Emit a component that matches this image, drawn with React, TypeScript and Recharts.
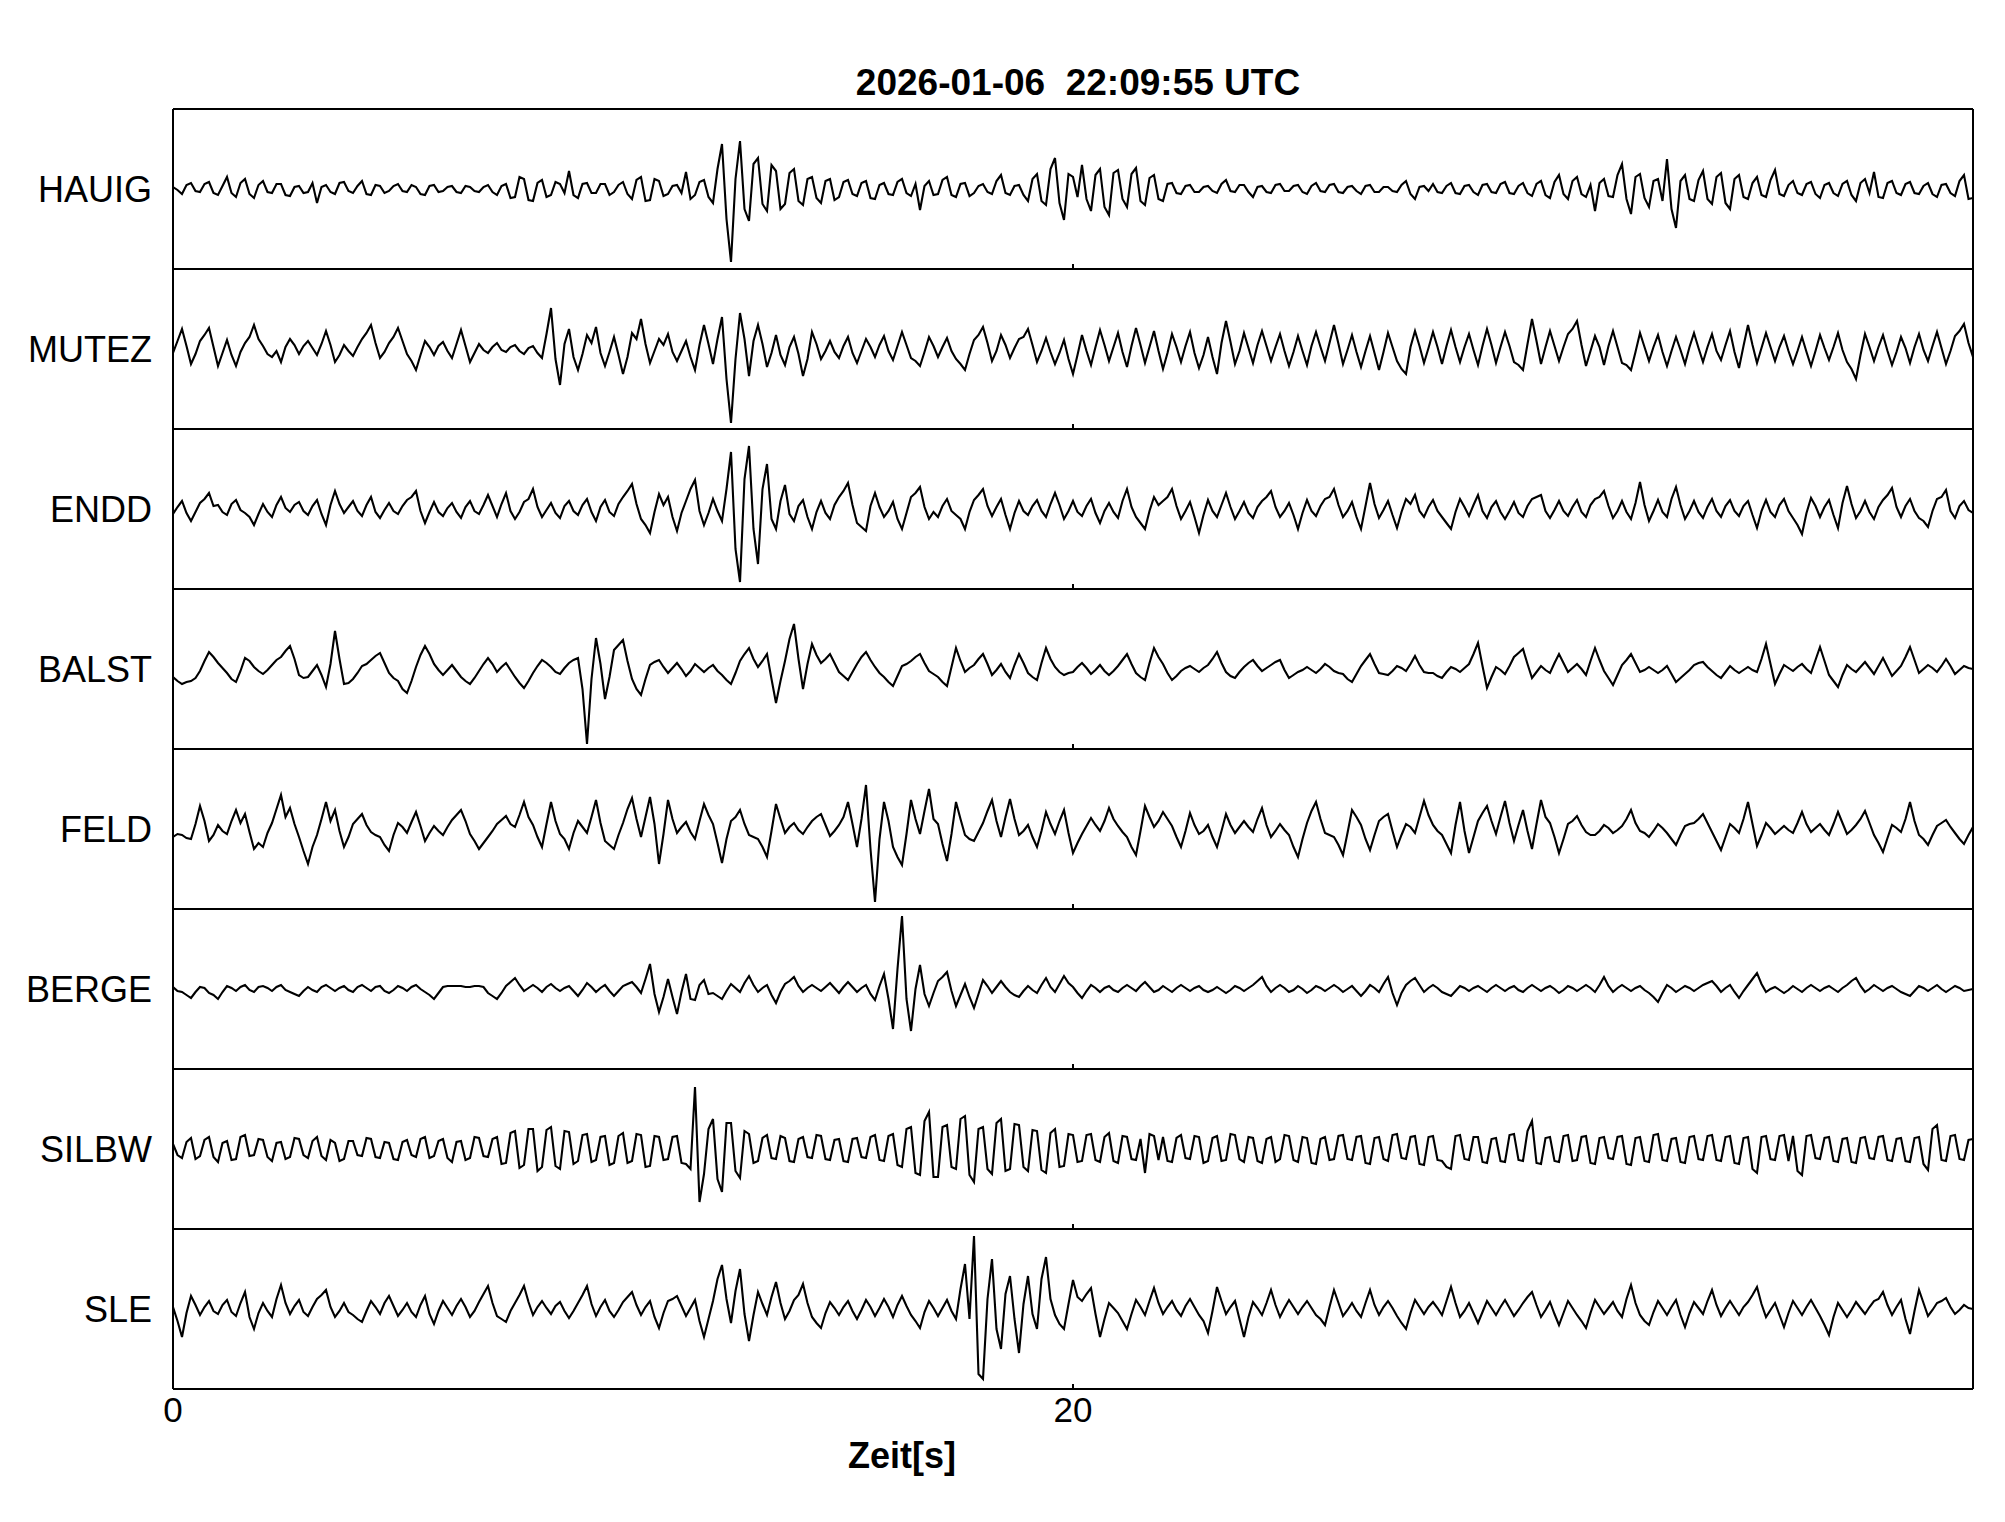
import React from 'react';
import { LineChart, Line, XAxis, YAxis, ReferenceLine } from 'recharts';

const STATIONS = ['HAUIG', 'MUTEZ', 'ENDD', 'BALST', 'FELD', 'BERGE', 'SILBW', 'SLE'];
const X_TICKS = [0, 20];
const X_DOMAIN = [0, 40];
const SAMPLE_STEP = 0.1;
const TITLE = '2026-01-06  22:09:55 UTC';
const X_LABEL = 'Zeit[s]';

const HAUIG = [
  2, -1, -5, 4, 6, -2, -3, 5, 7, -4,
  -6, 3, 12, -4, -8, 6, 10, -5, -9, 4,
  8, -3, -4, 5, 5, -6, -7, 2, 3, -4,
  -3, 6, -14, 2, 4, -3, -5, 6, 7, -2,
  -4, 3, 8, -5, -6, 4, 3, -4, -2, 3,
  5, -2, -3, 4, 2, -5, -6, 3, 4, -3,
  -2, 2, 3, -3, -4, 3, 2, -2, -3, 2,
  4, -3, -6, 3, 5, -9, -8, 12, 10, -11,
  -12, 6, 9, -8, -6, 7, 5, -4, 18, -6,
  -9, 5, 6, -4, -4, 5, 5, -6, -3, 4,
  7, -5, -10, 9, 12, -12, -11, 10, 8, -7,
  -5, 3, 4, -4, 17, -10, -6, 7, 9, -8,
  -14, 20, 45, -30, -73, 10, 48, -20, -32, 25,
  31, -15, -22, 24, 18, -20, -15, 16, 20, -12,
  -16, 10, 12, -9, -14, 8, 10, -11, -8, 7,
  9, -5, -7, 6, 8, -9, -10, 4, 6, -5,
  -6, 7, 10, -4, -7, 5, -21, 3, 8, -6,
  -5, 9, 12, -6, -8, 5, 6, -7, -4, 3,
  5, -3, -5, 8, 14, -4, -6, 3, 4, -6,
  -12, 10, 15, -12, -16, 20, 31, -14, -31, 15,
  12, -8, 24, -10, -22, 14, 20, -18, -26, 16,
  19, -10, -18, 15, 21, -12, -16, 11, 14, -10,
  -12, 5, 6, -4, -5, 3, 4, -3, -3, 2,
  3, -2, -4, 5, 9, -2, -3, 4, 4, -3,
  -8, 2, 3, -3, -4, 4, 5, -2, -2, 3,
  4, -3, -5, 3, 6, -2, -3, 4, 5, -3,
  -4, 2, 3, -2, -5, 3, 4, -3, -3, 2,
  2, -2, -3, 4, 8, -5, -10, 2, 3, -2,
  5, -3, -4, 3, 6, -4, -5, 3, 4, -3,
  -6, 4, 5, -3, -4, 5, 7, -4, -5, 3,
  6, -4, -7, 5, 8, -6, -9, 7, 14, -5,
  -10, 8, 12, -5, -8, 4, -22, 6, 10, -7,
  -8, 14, 25, -10, -25, 12, 15, -9, -18, 8,
  10, -12, 30, -20, -39, 8, 14, -10, -12, 9,
  18, -10, -15, 12, 16, -14, -20, 10, 14, -8,
  -10, 6, 12, -6, -8, 9, 19, -5, -7, 4,
  8, -4, -6, 5, 7, -5, -9, 4, 6, -4,
  -7, 5, 8, -6, -12, 6, 10, -4, 17, -8,
  -9, 6, 8, -4, -6, 5, 7, -4, -5, 3,
  6, -5, -8, 4, 5, -4, -7, 8, 14, -10,
  -9,
];

const MUTEZ = [
  -4, 8, 20, 3, -15, -5, 8, 14, 21, 2,
  -17, -4, 9, -6, -17, -3, 6, 12, 24, 10,
  3, -5, -8, -2, -13, 2, 10, 4, -5, 3,
  8, 1, -6, 5, 18, 4, -13, -6, 4, -2,
  -7, 2, 10, 16, 24, 6, -9, -3, 6, 12,
  21, 8, -5, -12, -21, -6, 8, 2, -6, 3,
  7, -2, -9, 5, 19, 3, -13, -4, 5, -1,
  -4, 2, 6, -1, -3, 2, 4, -2, -5, 1,
  3, -4, -9, 15, 41, -10, -36, 5, 20, -8,
  -21, -5, 14, 6, 22, -4, -17, -3, 12, -6,
  -25, -8, 16, 10, 30, 5, -14, -2, 10, 4,
  15, -3, -12, -2, 8, -8, -21, 4, 24, 5,
  -15, 10, 32, -30, -74, -10, 36, 10, -27, 8,
  24, 5, -18, -4, 14, -6, -16, 2, 12, -5,
  -27, -10, 17, 5, -10, -2, 8, -3, -9, 3,
  12, -4, -14, -2, 10, 2, -8, 4, 13, -2,
  -11, 3, 17, 4, -9, -12, -17, -3, 12, 3,
  -8, 2, 11, -2, -10, -15, -21, -5, 9, 14,
  22, 6, -12, -2, 14, 4, -9, 1, 10, 12,
  20, 4, -13, -2, 11, -3, -15, -4, 9, -10,
  -25, -6, 14, -2, -16, 2, 19, 4, -12, 2,
  16, -3, -18, 3, 21, 4, -14, 2, 18, -2,
  -20, -4, 15, 2, -13, 3, 17, -4, -19, -6,
  12, -8, -25, 6, 28, 7, -15, -2, 16, 1,
  -14, 4, 18, 3, -12, 2, 15, -2, -17, -3,
  13, -2, -16, 3, 17, 2, -12, 6, 24, 5,
  -15, -1, 14, -3, -18, -2, 13, -4, -21, -3,
  16, 2, -12, -20, -25, 2, 18, 3, -14, 1,
  17, 2, -15, 3, 19, 2, -13, 2, 15, -1,
  -16, 3, 20, 4, -14, 2, 17, 3, -13, -16,
  -21, 5, 30, 8, -15, 2, 18, 3, -12, 2,
  15, 20, 28, 4, -17, -2, 13, 2, -16, 3,
  18, 2, -14, -16, -21, -3, 16, 2, -12, 2,
  14, -3, -17, -2, 12, -1, -15, 2, 16, 1,
  -13, 2, 15, -2, -11, 4, 18, -3, -19, 3,
  24, 4, -14, 1, 16, 2, -12, 2, 13, -2,
  -15, -2, 12, -3, -17, -2, 14, 1, -11, 2,
  16, -1, -13, -20, -30, -6, 15, 2, -12, 2,
  14, -2, -16, -3, 12, 1, -14, 2, 15, -1,
  -12, 3, 17, 1, -15, -2, 13, 18, 25, 6,
  -8,
];

const ENDD = [
  -5, 2, 8, -4, -12, -3, 6, 10, 16, 3,
  4, -3, -6, 5, 9, -1, -4, -8, -16, -5,
  5, -3, -8, 4, 12, 1, -3, 4, 7, -2,
  -6, 3, 9, -5, -16, 4, 18, 5, -4, 2,
  8, -2, -7, 4, 12, -3, -9, -1, 6, -2,
  -5, 3, 9, 12, 18, -2, -14, -3, 7, -3,
  -7, 1, 6, -3, -9, 2, 8, -2, -5, 4,
  14, 3, -8, 5, 16, -2, -10, -3, 7, 10,
  20, 2, -8, -1, 6, -4, -9, 3, 8, -2,
  -6, 4, 10, -3, -12, 2, 9, -3, -7, 5,
  12, 18, 25, 5, -10, -16, -24, -3, 15, 4,
  12, -8, -22, -4, 8, 20, 29, -2, -16, -4,
  10, -2, -12, 20, 57, -40, -73, 30, 63, -20,
  -55, 20, 45, -10, -20, 8, 24, -5, -12, 3,
  9, -8, -20, -3, 8, -4, -10, 4, 12, 18,
  26, 4, -14, -18, -22, 3, 16, 2, -8, -2,
  7, -10, -20, -4, 12, 16, 22, 2, -10, -3,
  -8, 3, 10, -2, -6, -10, -20, -3, 9, 14,
  20, 3, -7, 2, 10, -6, -20, -4, 8, -2,
  -6, 3, 9, -2, -8, 5, 16, 4, -10, -2,
  8, -3, -7, 3, 10, -4, -14, -2, 6, -3,
  -9, 8, 20, 2, -8, -14, -20, -2, 12, 4,
  8, 12, 20, 3, -10, -2, 7, -8, -24, -6,
  9, -2, -8, 4, 16, 2, -10, -2, 7, -4,
  -9, 2, 8, 12, 18, 2, -8, -2, 6, -6,
  -20, -4, 9, -2, -7, 3, 10, 12, 20, 4,
  -8, -2, 7, -8, -20, 3, 26, 5, -9, -1,
  8, -6, -19, -3, 10, 5, 14, -2, -8, 2,
  9, -2, -8, -14, -20, -3, 10, 2, -7, 4,
  14, -2, -9, 2, 8, -3, -10, -2, 7, -4,
  -8, 3, 10, 12, 14, -2, -9, -1, 8, -2,
  -7, 2, 9, -3, -8, 4, 10, 12, 18, 3,
  -9, -2, 8, -3, -10, 6, 27, 4, -12, -2,
  9, -3, -8, 10, 22, 4, -10, -2, 8, -3,
  -9, 2, 10, -2, -8, 3, 9, -2, -7, 3,
  8, -6, -19, -2, 9, -3, -8, 4, 10, -2,
  -9, -16, -25, -4, 11, 3, -8, 2, 9, -6,
  -19, 6, 23, 5, -9, -2, 8, -3, -10, 2,
  9, 14, 21, 2, -8, 3, 10, -2, -9, -12,
  -18, -2, 10, 12, 19, -2, -9, 3, 8, -1,
  -4,
];

const BALST = [
  -8, -12, -15, -13, -12, -9, -2, 8, 17, 12,
  6, 1, -4, -10, -13, -2, 11, 8, 2, -2,
  -5, -1, 4, 9, 12, 18, 23, 10, -6, -9,
  -8, -2, 4, -6, -18, 5, 38, 10, -15, -14,
  -10, -4, 3, 5, 9, 13, 16, 6, -4, -9,
  -12, -20, -24, -12, 2, 14, 23, 15, 5, -1,
  -6, -1, 4, -2, -8, -12, -15, -9, -2, 5,
  11, 5, -3, 2, 6, -1, -8, -14, -19, -12,
  -4, 3, 9, 6, 2, -3, -5, 1, 6, 9,
  11, -20, -75, -10, 31, 5, -30, -8, 19, 24,
  29, 8, -10, -20, -26, -10, 4, 7, 9, 2,
  -4, 1, 6, 0, -7, -2, 5, 1, -3, 1,
  4, -2, -6, -11, -15, -4, 8, 15, 21, 10,
  2, 8, 15, -10, -34, -12, 8, 30, 45, 10,
  -20, 5, 25, 14, 6, 10, 15, 6, -3, -7,
  -11, -3, 5, 12, 17, 9, 2, -4, -8, -13,
  -17, -7, 3, 5, 8, 12, 15, 6, -2, -5,
  -8, -13, -17, 2, 21, 8, -3, 1, 4, 10,
  15, 5, -6, -1, 5, -3, -9, 4, 15, 6,
  -4, -8, -11, 6, 21, 10, 2, -3, -6, -4,
  -3, 2, 6, 1, -5, -1, 4, -2, -6, -2,
  3, 9, 15, 5, -4, -8, -11, 6, 21, 12,
  5, -4, -11, -7, -2, 1, 3, 0, -3, 1,
  4, 10, 17, 6, -3, -7, -9, -3, 2, 6,
  9, 3, -2, 1, 4, 7, 9, -1, -9, -6,
  -3, -1, 2, -1, -4, 0, 5, 2, -2, -4,
  -5, -10, -13, -5, 3, 9, 15, 5, -4, -5,
  -6, -2, 3, 1, -2, 5, 13, 4, -3, -4,
  -4, -7, -9, -3, 2, 0, -3, 1, 5, 15,
  26, 3, -19, -8, 2, -1, -5, 3, 12, 16,
  20, 5, -9, -3, 3, -1, -4, 6, 15, 6,
  -3, 1, 5, 0, -6, 8, 21, 9, -2, -9,
  -16, -6, 4, 9, 15, 6, -3, -1, 2, -1,
  -4, -1, 3, -5, -13, -9, -5, -1, 4, 6,
  7, 2, -2, -6, -9, -3, 3, -1, -4, -1,
  2, -1, -3, 10, 25, 5, -15, -5, 4, 1,
  -2, 2, 5, 0, -4, 9, 22, 8, -6, -12,
  -18, -6, 4, 0, -3, 2, 7, 1, -5, 3,
  11, 2, -7, -2, 3, 12, 22, 9, -4, 0,
  4, 1, -3, 3, 10, 3, -5, -1, 3, 1,
  0,
];

const FELD = [
  -8, -5, -6, -9, -10, 5, 23, 8, -12, -6,
  4, -2, -5, 8, 19, 6, 15, -3, -20, -14,
  -18, -4, 6, 20, 34, 12, 21, 5, -8, -22,
  -35, -18, -6, 10, 27, 8, 19, -2, -18, -8,
  5, 10, 15, 4, -3, -6, -8, -16, -22, -6,
  6, 2, -4, 7, 17, 3, -12, -4, 3, -2,
  -6, 2, 9, 14, 19, 8, -5, -12, -20, -14,
  -8, -2, 5, 9, 13, 5, 2, 14, 27, 12,
  4, -8, -18, 5, 27, 8, -5, -10, -20, -4,
  8, 2, -4, 12, 29, 6, -12, -16, -20, -6,
  6, 20, 31, 10, -8, 12, 32, 5, -35, -5,
  29, 10, -4, 2, 7, -3, -10, 8, 25, 14,
  5, -14, -34, -10, 8, 12, 19, 5, -6, -8,
  -10, -18, -28, -2, 25, 10, -4, 2, 6, -1,
  -5, 2, 8, 12, 15, 4, -7, -2, 4, 12,
  27, 5, -18, 10, 44, -20, -73, -10, 27, 8,
  -18, -28, -36, -5, 29, 10, -5, 18, 40, 10,
  5, -15, -32, -5, 27, 10, -6, -10, -12, -3,
  6, 18, 29, 8, -8, 12, 30, 10, -6, -2,
  4, -8, -18, -2, 17, 5, -5, 8, 19, -4,
  -24, -14, -5, 3, 11, 4, -2, 8, 21, 10,
  3, -3, -8, -18, -26, -2, 23, 12, 2, 8,
  17, 10, 3, -8, -18, -2, 16, 4, -5, -2,
  4, -8, -18, -2, 15, 4, -4, 2, 8, 2,
  -3, 10, 21, 4, -8, -2, 5, -1, -6, -18,
  -28, -10, 6, 18, 27, 10, -4, -6, -8, -16,
  -26, -4, 19, 12, 4, -10, -21, -6, 8, 12,
  15, -2, -18, -6, 5, 2, -4, 12, 28, 14,
  4, -2, -6, -15, -24, 4, 27, -2, -24, -8,
  8, 16, 23, 8, -5, 12, 28, 6, -12, 4,
  19, -2, -20, 5, 29, 12, 6, -8, -24, -10,
  5, 8, 13, 4, -3, -6, -6, -2, 4, 1,
  -4, -1, 3, 10, 19, 6, -2, -4, -8, -2,
  5, 1, -4, -10, -16, -6, 3, 5, 6, 10,
  15, 6, -3, -12, -21, -8, 5, 1, -4, 10,
  27, 5, -17, -6, 6, 1, -5, -1, 3, -1,
  -4, 6, 17, 5, -3, 1, 5, -1, -6, 5,
  17, 6, -5, -1, 4, 10, 18, 6, -6, -14,
  -23, -9, 4, 1, -3, 10, 27, 8, -6, -10,
  -16, -6, 3, 6, 9, 2, -4, -10, -15, -6,
  2,
];

const BERGE = [
  2, -2, -3, -6, -9, -3, 2, 1, -4, -6,
  -10, -3, 3, 1, -2, 2, 4, -1, -3, 2,
  3, 1, -2, 2, 4, -1, -3, -5, -7, -2,
  2, -1, -3, 2, 4, 1, -2, 1, 3, -1,
  -3, 2, 4, 1, -2, 2, 3, -2, -4, -1,
  3, 1, -2, 2, 4, 0, -3, -6, -10, -4,
  2, 3, 3, 3, 3, 2, 2, 3, 3, 2,
  -4, -7, -10, -4, 3, 7, 11, 4, -2, 1,
  4, 1, -3, 2, 5, 1, -2, 1, 3, -2,
  -7, -1, 6, 2, -3, 1, 4, -2, -7, -2,
  3, 5, 7, 2, -4, 10, 25, -5, -23, -8,
  10, -8, -25, -3, 15, -10, -11, 4, 9, -5,
  -4, -7, -10, -2, 5, 1, -3, 6, 13, 4,
  -3, 1, 4, -6, -14, -3, 5, 8, 12, 3,
  -3, 1, 4, 1, -2, 2, 6, 1, -4, 2,
  7, 2, -3, 1, 4, -5, -11, 3, 15, -10,
  -40, 20, 73, -10, -42, 0, 24, -5, -17, -4,
  8, 12, 17, -2, -17, -6, 5, -8, -19, -5,
  9, 3, -4, 2, 8, 2, -3, -6, -8, -2,
  3, -1, -4, 4, 11, 2, -3, 5, 13, 6,
  2, -4, -9, -2, 4, 1, -3, 1, 3, -1,
  -3, 1, 4, 1, -2, 3, 7, 2, -3, -1,
  3, 0, -3, 1, 4, 1, -2, 1, 3, -1,
  -3, -1, 2, -1, -4, -1, 3, 1, -2, 1,
  4, 8, 12, 3, -3, 1, 4, 1, -3, -1,
  3, 0, -4, -1, 3, 1, -2, 1, 4, 1,
  -3, 0, 3, -2, -7, -2, 4, 1, -3, 5,
  12, -4, -16, -4, 4, 8, 11, 4, -3, 1,
  4, 1, -3, -5, -7, -2, 3, 1, -2, 1,
  3, 0, -3, 1, 4, 1, -2, 1, 3, -1,
  -3, 1, 4, 1, -2, 1, 3, 0, -4, -1,
  3, 1, -2, 1, 4, 1, -3, 4, 12, 3,
  -3, 1, 4, 1, -2, 1, 3, -1, -4, -8,
  -13, -4, 4, 1, -3, 0, 3, 1, -2, 1,
  4, 6, 8, 3, -3, 1, 4, -3, -9, -2,
  4, 10, 16, 5, -3, 0, 2, -1, -4, -1,
  3, 0, -3, 1, 4, 1, -2, 1, 3, 0,
  -3, 1, 4, 8, 11, 3, -3, 0, 4, 1,
  -2, 1, 3, 0, -3, -5, -7, -2, 3, 1,
  -2, 1, 4, 0, -3, 0, 3, 1, -2, -1,
  0,
];

const SILBW = [
  5, -6, -9, 7, 11, -10, -7, 9, 12, -8,
  -13, 6, 8, -11, -10, 12, 14, -7, -6, 10,
  9, -8, -12, 6, 7, -10, -8, 11, 10, -6,
  -9, 8, 12, -7, -11, 9, 6, -12, -10, 8,
  8, -6, -7, 11, 10, -8, -9, 7, 6, -10,
  -11, 7, 9, -6, -8, 10, 12, -9, -7, 8,
  10, -9, -13, 7, 8, -11, -9, 12, 11, -7,
  -8, 10, 12, -15, -14, 16, 18, -19, -16, 20,
  20, -22, -18, 19, 22, -17, -20, 18, 17, -15,
  -12, 14, 15, -13, -11, 12, 13, -16, -14, 13,
  16, -14, -12, 15, 14, -18, -17, 13, 12, -11,
  -10, 12, 13, -14, -15, -20, 62, -53, -25, 20,
  30, -30, -43, 26, 26, -22, -29, 18, 15, -14,
  -12, 11, 14, -9, -10, 13, 11, -12, -13, 10,
  12, -8, -9, 14, 13, -10, -11, 9, 10, -12,
  -13, 10, 11, -8, -9, 12, 14, -11, -12, 13,
  15, -16, -18, 20, 22, -24, -26, 28, 37, -28,
  -28, 22, 24, -18, -20, 30, 33, -26, -33, 20,
  22, -20, -25, 26, 30, -22, -20, 25, 24, -18,
  -22, 19, 18, -21, -24, 16, 20, -18, -17, 15,
  14, -13, -12, 14, 15, -11, -13, 12, 16, -12,
  -14, 13, 12, -10, -11, 10, -24, 15, 13, -11,
  12, -12, -13, 11, 14, -9, -10, 13, 12, -14,
  -12, 11, 13, -12, -11, 15, 14, -10, -13, 12,
  11, -12, -14, 10, 12, -13, -10, 14, 13, -11,
  -13, 12, 11, -14, -15, 10, 12, -11, -10, 13,
  14, -10, -11, 12, 13, -14, -15, 11, 12, -10,
  -12, 14, 15, -9, -10, 12, 13, -15, -16, 12,
  13, -11, -12, -18, -20, 13, 14, -10, -11, 12,
  12, -13, -14, 10, 11, -12, -13, 14, 15, -11,
  -12, 18, 28, -14, -15, 11, 12, -12, -13, 13,
  14, -12, -11, 12, 13, -14, -15, 11, 12, -9,
  -10, 12, 13, -15, -16, 11, 12, -12, -13, 14,
  15, -11, -12, 10, 11, -13, -14, 12, 13, -10,
  -11, 13, 14, -11, -12, 12, 13, -14, -15, 11,
  12, -20, -24, 12, 13, -10, -11, 13, 14, -12,
  13, -22, -26, 13, 14, -9, -10, 11, 12, -12,
  -13, 10, 11, -13, -14, 11, 12, -9, -10, 12,
  13, -11, -12, 10, 11, -12, -13, 11, 12, -15,
  -21, 20, 24, -11, -12, 13, 14, -10, -11, 9,
  10,
];

const SLE = [
  2, -12, -28, -4, 13, 4, -6, 2, 8, -2,
  -5, 4, 9, -3, -7, 6, 17, -8, -20, -4,
  6, -2, -8, 10, 24, 6, -5, 3, 9, -3,
  -7, 2, 10, 14, 19, 2, -8, -2, 6, -3,
  -6, -10, -13, -2, 8, 2, -5, 6, 13, 3,
  -7, -1, 6, -3, -8, 4, 13, -5, -15, -2,
  8, 1, -6, 3, 10, 2, -8, -2, 7, 15,
  23, 6, -7, -10, -13, -2, 6, 14, 23, 7,
  -6, 2, 8, 1, -5, 3, 7, -2, -9, -2,
  6, 14, 23, 5, -7, 2, 9, -2, -8, -1,
  7, 12, 17, 4, -6, 2, 8, -8, -19, -4,
  8, 10, 13, 3, -7, 1, 9, -12, -28, -10,
  8, 30, 44, 10, -14, 18, 40, -5, -32, -6,
  17, 5, -6, 12, 27, 6, -10, -2, 9, 14,
  25, 6, -8, -14, -19, -4, 7, 1, -6, 2,
  8, -2, -10, -1, 9, 2, -7, 1, 10, 2,
  -8, 4, 13, 3, -6, -12, -19, -3, 8, 1,
  -7, 1, 9, -2, -10, 20, 45, -10, 73, -65,
  -70, 10, 50, -20, -40, 15, 33, -10, -44, 5,
  33, -5, -20, 30, 52, 10, -6, -15, -20, 5,
  29, 12, 8, 15, 21, -5, -28, -10, 6, 1,
  -4, -12, -20, -5, 9, 2, -6, 8, 21, 6,
  -5, 2, 8, -1, -7, 3, 10, 2, -6, -12,
  -24, -2, 22, 8, -5, 2, 8, -10, -28, -8,
  7, 1, -6, 6, 19, 4, -8, 1, 9, 2,
  -5, 2, 8, 1, -6, -10, -16, 2, 19, 6,
  -7, -1, 6, -2, -8, 6, 19, 4, -6, 2,
  8, 1, -7, -14, -20, -4, 9, 2, -5, 2,
  7, 1, -6, 8, 22, 6, -8, -2, 6, -4,
  -14, -3, 8, 1, -6, 2, 9, 1, -7, -1,
  6, 12, 17, 4, -8, -1, 7, -5, -16, -4,
  8, 1, -6, -12, -19, -4, 9, 2, -5, 1,
  7, -2, -8, 10, 24, 6, -6, -12, -16, -3,
  8, 1, -6, 2, 9, -6, -18, -4, 7, 1,
  -5, 8, 19, 4, -7, 1, 8, 1, -6, 2,
  7, 14, 22, 5, -8, -1, 6, -6, -18, -4,
  8, 1, -6, 2, 9, 1, -7, -16, -26, -8,
  6, -1, -8, -1, 7, 1, -5, 2, 8, 10,
  17, 4, -6, 2, 9, -10, -25, -2, 19, 6,
  -7, -1, 6, 8, 11, 2, -5, -1, 4, 1,
  0,
];

const SERIES: Record<string, number[]> = { HAUIG, MUTEZ, ENDD, BALST, FELD, BERGE, SILBW, SLE };

const HALF = 80;
const PANEL = 160;

const data = HAUIG.map((_, i) => {
  const row: Record<string, number> = { t: Math.round(i * SAMPLE_STEP * 100) / 100 };
  STATIONS.forEach((s) => {
    row[s] = SERIES[s][i];
  });
  return row;
});

const W = 1989;
const H = 1500;
const FONT = '"Liberation Sans", Arial, Helvetica, sans-serif';
const N = STATIONS.length;
const M_LEFT = 165;

const makeStationTick = (name: string) => (props: any) => (
  <text
    x={M_LEFT - 21}
    y={props.y}
    dy="0.355em"
    textAnchor="end"
    fontSize={36}
    fontFamily={FONT}
    fill="#000"
  >
    {name}
  </text>
);

export default function App() {
  return (
    <div style={{ position: 'relative', width: W, height: H, fontFamily: FONT, background: '#fff' }}>
      <LineChart width={W} height={H} data={data} margin={{ top: 101, right: 24, bottom: 79, left: M_LEFT }}>
        <XAxis
          dataKey="t"
          type="number"
          domain={X_DOMAIN}
          ticks={X_TICKS}
          allowDataOverflow
          axisLine={false}
          tickLine={false}
          tickSize={0}
          tickMargin={8}
          height={40}
          interval={0}
          tick={{ fontSize: 35, fill: '#000', fontFamily: FONT }}
        />
        {STATIONS.map((s, i) => (
          <YAxis
            key={'ya' + s}
            yAxisId={'y' + i}
            type="number"
            domain={[-(HALF + (N - 1 - i) * PANEL), HALF + i * PANEL]}
            allowDataOverflow
            ticks={[0]}
            width={1}
            mirror
            axisLine={false}
            tickLine={false}
            tickSize={0}
            tickMargin={0}
            interval={0}
            tick={makeStationTick(s)}
          />
        ))}
        {STATIONS.map((s, i) => (
          <Line
            key={'ln' + s}
            yAxisId={'y' + i}
            dataKey={s}
            type="linear"
            stroke="#000"
            strokeWidth={2.1}
            strokeLinejoin="miter"
            dot={false}
            activeDot={false}
            isAnimationActive={false}
          />
        ))}
        <ReferenceLine yAxisId="y0" y={HALF} stroke="#000" strokeWidth={2} ifOverflow="visible" />
        {STATIONS.map((s, i) => (
          <ReferenceLine key={'sep' + s} yAxisId={'y' + i} y={-HALF} stroke="#000" strokeWidth={2} ifOverflow="visible" />
        ))}
        {STATIONS.map((s, i) => (
          <ReferenceLine
            key={'tk' + s}
            yAxisId={'y' + i}
            segment={[{ x: 20, y: -HALF }, { x: 20, y: -HALF + 5 }]}
            stroke="#000"
            strokeWidth={2}
            ifOverflow="visible"
          />
        ))}
        <ReferenceLine yAxisId="y0" x={X_DOMAIN[0]} stroke="#000" strokeWidth={2} ifOverflow="visible" />
        <ReferenceLine yAxisId="y0" x={X_DOMAIN[1]} stroke="#000" strokeWidth={2} ifOverflow="visible" />
      </LineChart>
      <div
        style={{
          position: 'absolute',
          left: 1070 - 400,
          width: 800,
          top: 56,
          fontSize: 37,
          lineHeight: '37px',
          fontWeight: 'bold',
          textAlign: 'center',
          whiteSpace: 'pre',
          color: '#000',
        }}
      >
        {TITLE}
      </div>
      <div
        style={{
          position: 'absolute',
          left: 894 - 200,
          width: 400,
          top: 1430,
          fontSize: 36,
          lineHeight: '36px',
          fontWeight: 'bold',
          textAlign: 'center',
          color: '#000',
        }}
      >
        {X_LABEL}
      </div>
    </div>
  );
}
